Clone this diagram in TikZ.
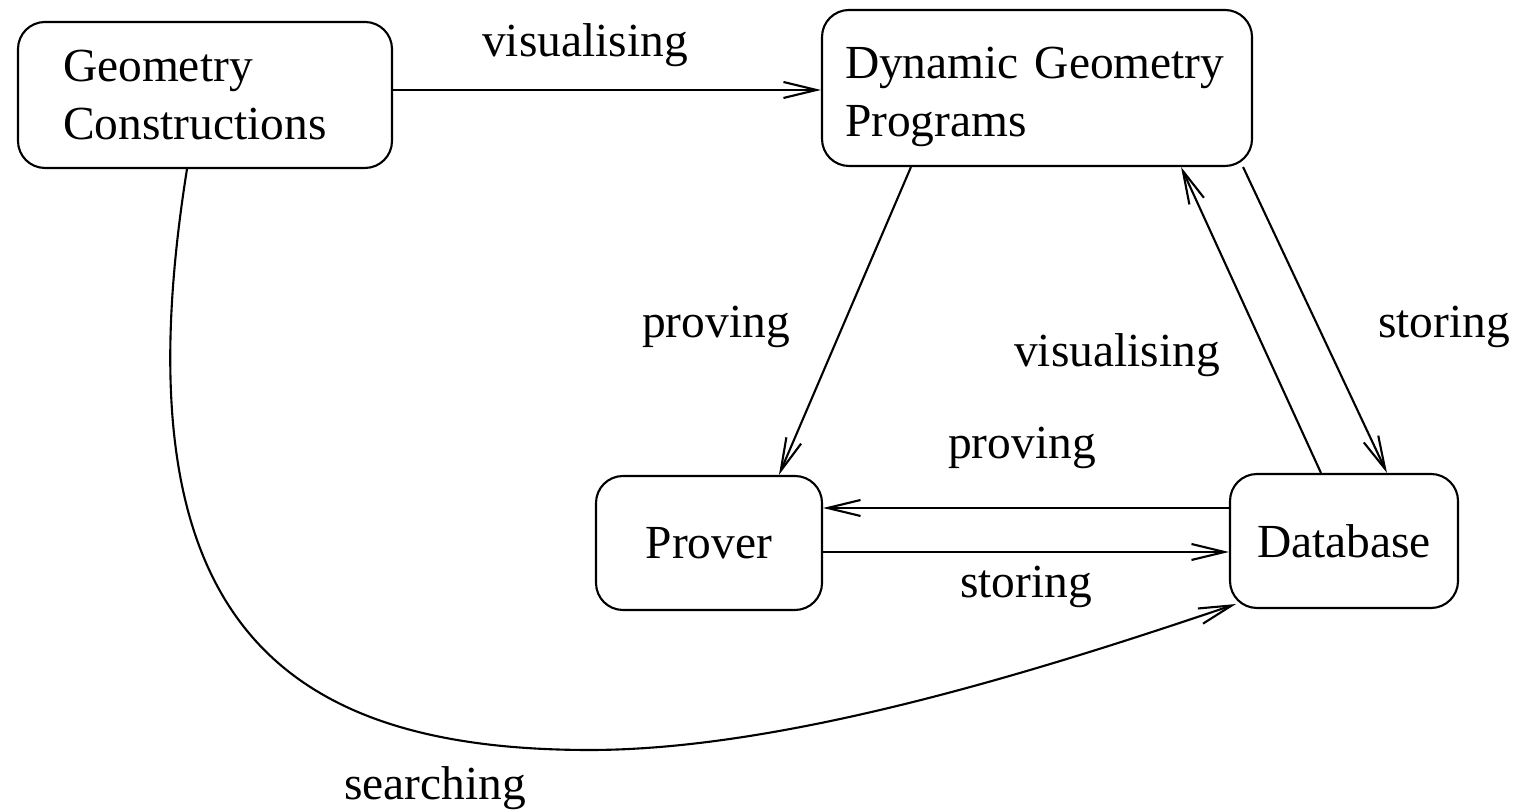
\documentclass[tikz,border=0pt]{standalone}
\usepackage{fontspec}
\setmainfont{Liberation Serif}
\usetikzlibrary{arrows.meta}
\tikzset{
  blk/.style={draw, rounded corners=2.7mm, line width=0.6pt,
              font=\fontsize{13.5}{16.5}\selectfont, align=center},
  arr/.style={-{Straight Barb[length=3.3mm,width=1.6mm]}, line width=0.6pt},
  lab/.style={font=\fontsize{13.5}{16.5}\selectfont, anchor=base, inner sep=0pt}
}

\begin{document}
\begin{tikzpicture}
  \useasboundingbox (0,0) rectangle (15.28,8.12);
  % Boxes
  \node[blk, minimum width=3.74cm, minimum height=1.46cm, text width=2.84cm, align=left] (gc) at (2.05,7.17) {Geometry\\Constructions};
  \node[blk, minimum width=4.30cm, minimum height=1.56cm, text width=3.84cm, text height=13.8pt, align=left] (dgp) at (10.37,7.24) {Dynamic Geometry\\Programs};
  \node[blk, minimum width=2.26cm, minimum height=1.34cm] (pr) at (7.09,2.69) {Prover};
  \node[blk, minimum width=2.28cm, minimum height=1.34cm] (db) at (13.44,2.71) {Database};
  \coordinate (gcout) at ([yshift=0.5mm]gc.east);
  \coordinate (dbout) at ([yshift=3.3mm]db.west);
  \coordinate (prout) at ([yshift=-1.1mm]db.west);
  \coordinate (low) at (5.90,0.62);
  % Connectors
  \draw[arr] (gcout) -- (gcout -| dgp.west);
  \draw[arr] ([xshift=9mm]dgp.south west) -- ([xshift=18.4mm]pr.north west);
  \draw[arr] ([xshift=9.2mm]db.north west) -- ([xshift=-7.2mm]dgp.south east);
  \draw[arr] ([xshift=-1mm]dgp.south east) -- ([xshift=15.8mm]db.north west);
  \draw[arr] (dbout) -- (dbout -| pr.east);
  \draw[arr] (prout -| pr.east) -- (prout);
  \draw[arr] ([xshift=-1.8mm]gc.south) .. controls (1.15,1.92) and (2.80,0.62) .. (low)
    .. controls (7.90,0.62) and (10.50,1.45) .. ([shift={(0.07,0.05)}]db.south west);
  % Labels
  \node[lab] (vis1) at (5.85,7.55) {visualising};
  \node[lab] (prv1) at (7.16,4.74) {proving};
  \node[lab] (vis2) at (11.17,4.45) {visualising};
  \node[lab] (sto1) at (14.44,4.74) {storing};
  \node[lab] (prv2) at (10.22,3.53) {proving};
  \node[lab] (sto2) at (10.26,2.14) {storing};
  \node[lab] (srch) at (4.35,0.12) {searching};
\end{tikzpicture}
\end{document}
